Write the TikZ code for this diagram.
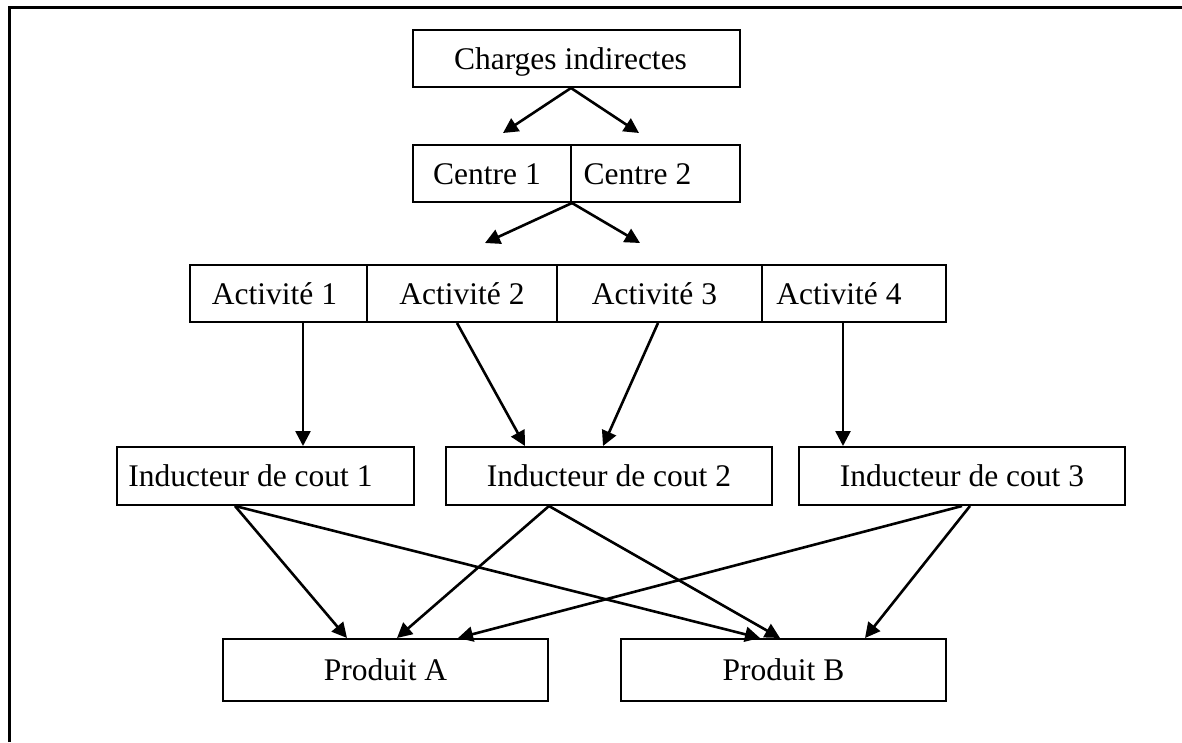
\documentclass[tikz,border=0pt]{standalone}
\usepackage{fontspec}
\setmainfont{Liberation Serif}
\usetikzlibrary{arrows.meta}
\newcommand{\padr}[1]{\rule{#1}{0pt}}
\begin{document}
\begin{tikzpicture}[x=1pt,y=-1pt,
  box/.style={draw,line width=2pt,minimum height=57pt,inner sep=0pt,
    text height=21pt,text depth=0pt,font=\fontsize{31.5}{36}\selectfont},
  arr/.style={line width=2.6pt,-{Triangle[length=15pt,width=15pt]}},
  frame/.style={line width=3pt}]
\useasboundingbox (0,0) rectangle (1182,742);
\draw[frame] (9,742) -- (9,7) -- (1182,7);
% nodes
\node[box,minimum width=327pt] (ci) at (576.5,58.5) {Charges indirectes\padr{12pt}};
\node[box,minimum width=158pt] (c1) at (492,173.5) {Centre 1\padr{10pt}};
\node[box,minimum width=169pt] (c2) at (655.5,173.5) {Centre 2\padr{36pt}};
\node[box,minimum width=177pt] (a1) at (278.5,293.5) {Activité 1\padr{8pt}};
\node[box,minimum width=190pt] (a2) at (462,293.5) {Activité 2};
\node[box,minimum width=205pt] (a3) at (659.5,293.5) {Activité 3\padr{10pt}};
\node[box,minimum width=184pt] (a4) at (854,293.5) {Activité 4\padr{30pt}};
\node[box,minimum width=297pt,minimum height=58pt] (i1) at (265.5,476) {Inducteur de cout 1\padr{30pt}};
\node[box,minimum width=326pt,minimum height=58pt] (i2) at (609,476) {Inducteur de cout 2};
\node[box,minimum width=326pt,minimum height=58pt] (i3) at (962,476) {Inducteur de cout 3};
\node[box,minimum width=325pt,minimum height=62pt] (pa) at (385.5,670) {Produit A};
\node[box,minimum width=325pt,minimum height=62pt] (pb) at (783.5,670) {Produit B};
% free arrow ends
\coordinate (t1) at (503,133);
\coordinate (t2) at (639,133);
\coordinate (t3) at (485,243);
\coordinate (t4) at (640,243);
% connectors
\draw[arr] ([xshift=-5.5pt]ci.south) -- (t1);
\draw[arr] ([xshift=-5.5pt]ci.south) -- (t2);
\draw[arr] (c1.south east) -- (t3);
\draw[arr] (c1.south east) -- (t4);
\draw[arr] ([xshift=24.5pt]a1.south) -- ([xshift=37.5pt]i1.north);
\draw[arr] ([xshift=-5pt]a2.south) -- ([xshift=-84pt]i2.north);
\draw[arr] ([xshift=-1.5pt]a3.south) -- ([xshift=-6pt]i2.north);
\draw[arr] ([xshift=-11pt]a4.south) -- ([xshift=-119pt]i3.north);
\draw[arr] ([xshift=-30.5pt]i1.south) -- ([xshift=-38.5pt]pa.north);
\draw[arr] ([xshift=-30.5pt]i1.south) -- ([xshift=-23.5pt]pb.north);
\draw[arr] ([xshift=-60pt]i2.south) -- ([xshift=11.5pt]pa.north);
\draw[arr] ([xshift=-60pt]i2.south) -- ([xshift=-3.5pt]pb.north);
\draw[arr] (i3.south) -- ([xshift=72.5pt]pa.north);
\draw[arr] ([xshift=8pt]i3.south) -- ([xshift=81.5pt]pb.north);
\end{tikzpicture}
\end{document}
